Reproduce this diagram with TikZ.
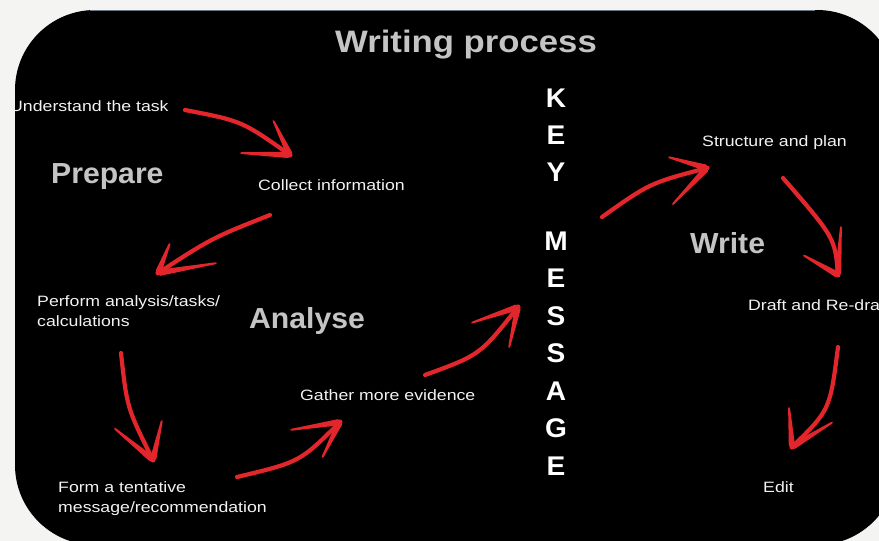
\documentclass[tikz,border=0pt]{standalone}
\usepackage{fontspec}
\usetikzlibrary{calc}
\setmainfont{Liberation Sans}
\newfontfamily\bodyfont{Liberation Sans}[FakeStretch=1.18]
\newfontfamily\headfont{Liberation Sans}[FakeStretch=1.04]
\newfontfamily\titlefont{Liberation Sans}[FakeStretch=1.12]
\definecolor{bg}{HTML}{F4F4F2}
\definecolor{arrowred}{HTML}{E3262B}
\definecolor{lblgray}{HTML}{C4C4C4}
\definecolor{txt}{HTML}{F2F2F2}
\definecolor{topline}{HTML}{6B7785}
\newcommand\mybarb[2]{%
  \fill[arrowred,rounded corners=1.5pt] ($(#1)!0.9pt!90:(#2)$) -- ($(#2)!3.2pt!-90:(#1)$) -- ($(#2)!2pt!(#1)$) -- ($(#2)!3.2pt!90:(#1)$) -- ($(#1)!0.9pt!-90:(#2)$) -- cycle;
  \fill[arrowred] (#2) circle (2.4pt);}
\begin{document}
\begin{tikzpicture}[x=1pt,y=-1pt,
  body/.style={text=txt,font=\bodyfont\fontsize{15}{20}\selectfont,inner sep=0pt,anchor=base west,align=left},
  head/.style={text=lblgray,font=\headfont\bfseries\fontsize{29}{34}\selectfont,inner sep=0pt,anchor=base west},
  keyl/.style={text=white,font=\headfont\bfseries\fontsize{27}{30}\selectfont,inner sep=0pt},
  arr/.style={draw=arrowred,line width=4.2pt,line cap=round,line join=round}]

\useasboundingbox (0,0) rectangle (879,541);
\fill[bg] (0,0) rectangle (879,541);
\begin{scope}
  \clip (0,0) rectangle (879,541);
  \fill[black, rounded corners=80pt] (15,10) rectangle (897,545);
\end{scope}
\draw[line width=1.2pt, topline] (90,10.5) -- (815,10.5);

% title and section labels
\node[text=lblgray,font=\titlefont\bfseries\fontsize{31}{34}\selectfont,inner sep=0pt] (title) at (466,45) {Writing process};
\node[head] (prepare) at (51,183) {Prepare};
\node[head] (analyse) at (249,328) {Analyse};
\node[head] (write) at (690,253) {Write};

% steps
\node[body] (understand) at (10,111) {Understand the task};
\node[body] (collect) at (258,190) {Collect information};
\node[body] (perform) at (37,326) {Perform analysis/tasks/\\calculations};
\node[body] (form) at (58,512) {Form a tentative\\message/recommendation};
\node[body] (gather) at (300,400) {Gather more evidence};
\node[body] (structure) at (702,146) {Structure and plan};
\node[body] (draft) at (748,310) {Draft and Re-dra};
\node[body] (edit) at (763,492) {Edit};

% KEY MESSAGE
\node[keyl] (k1) at (556,98) {K};
\node[keyl] (k2) at (556,135) {E};
\node[keyl] (k3) at (556,172) {Y};
\node[keyl] (m1) at (556,241) {M};
\node[keyl] (m2) at (556,278) {E};
\node[keyl] (m3) at (556,316) {S};
\node[keyl] (m4) at (556,353) {S};
\node[keyl] (m5) at (556,391) {A};
\node[keyl] (m6) at (556,428) {G};
\node[keyl] (m7) at (556,466) {E};

% arrow coordinates
\coordinate (a1t) at (185,110); \coordinate (a1h) at (290,155);
\coordinate (a1b) at (273,120); \coordinate (a1c) at (240,153);
\coordinate (a2t) at (270,215); \coordinate (a2h) at (158,273);
\coordinate (a2b) at (170,243); \coordinate (a2c) at (217,263);
\coordinate (a3t) at (121,353); \coordinate (a3h) at (153,460);
\coordinate (a3b) at (114,428); \coordinate (a3c) at (162,420);
\coordinate (a4t) at (237,477); \coordinate (a4h) at (340,422);
\coordinate (a4b) at (290,430); \coordinate (a4c) at (322,458);
\coordinate (a5t) at (425,375); \coordinate (a5h) at (518,307);
\coordinate (a5b) at (471,323); \coordinate (a5c) at (509,348);
\coordinate (a6t) at (602,217); \coordinate (a6h) at (707,168);
\coordinate (a6b) at (668,157); \coordinate (a6c) at (672,205);
\coordinate (a7t) at (783,178); \coordinate (a7h) at (838,275);
\coordinate (a7b) at (841,226); \coordinate (a7c) at (803,255);
\coordinate (a8t) at (838,347); \coordinate (a8h) at (792,447);
\coordinate (a8b) at (789,407); \coordinate (a8c) at (833,422);

% arrows
\draw[arr] (a1t) .. controls (242,121) .. (a1h);
\mybarb{a1b}{a1h} \mybarb{a1c}{a1h}

\draw[arr] (a2t) .. controls (212,238) .. (a2h);
\mybarb{a2b}{a2h} \mybarb{a2c}{a2h}

\draw[arr] (a3t) .. controls (127,408) .. (a3h);
\mybarb{a3b}{a3h} \mybarb{a3c}{a3h}

\draw[arr] (a4t) .. controls (300,462) .. (a4h);
\mybarb{a4b}{a4h} \mybarb{a4c}{a4h}

\draw[arr] (a5t) .. controls (480,355) .. (a5h);
\mybarb{a5b}{a5h} \mybarb{a5c}{a5h}

\draw[arr] (a6t) .. controls (650,183) .. (a6h);
\mybarb{a6b}{a6h} \mybarb{a6c}{a6h}

\draw[arr] (a7t) .. controls (835,238) .. (a7h);
\mybarb{a7b}{a7h} \mybarb{a7c}{a7h}

\draw[arr] (a8t) .. controls (830,410) .. (a8h);
\mybarb{a8b}{a8h} \mybarb{a8c}{a8h}
\end{tikzpicture}
\end{document}
